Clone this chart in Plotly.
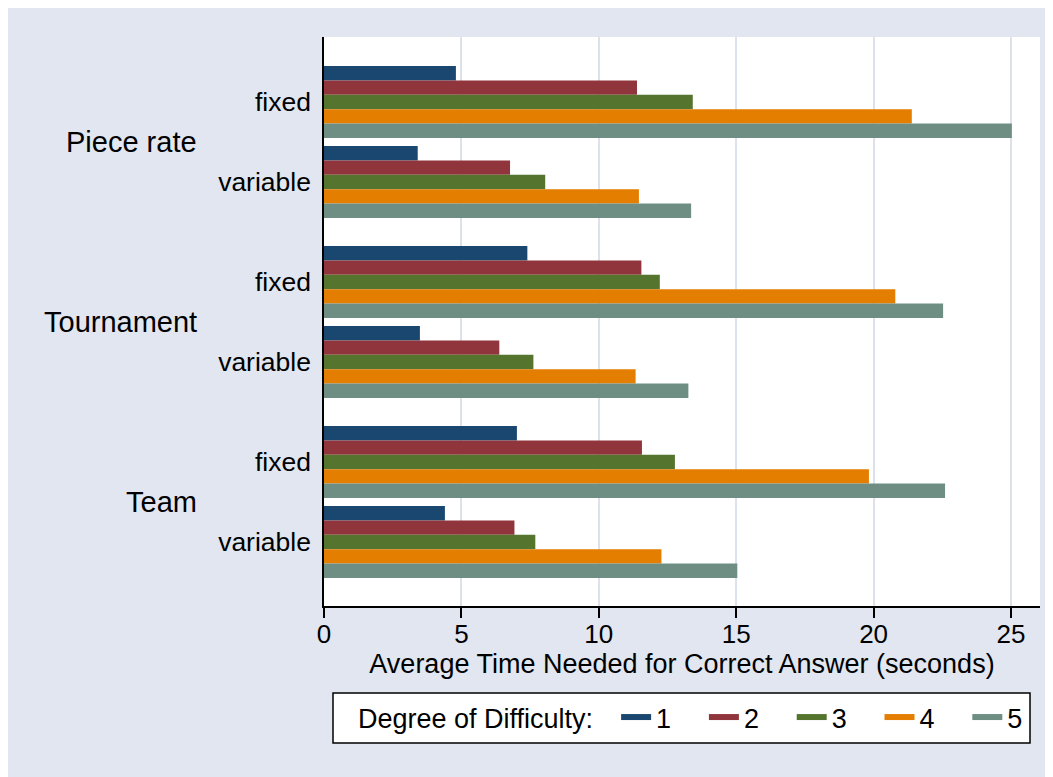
import plotly.graph_objects as go

# ---- data ----
group_labels = ["Piece rate", "Tournament", "Team"]
sub_labels = ["fixed", "variable", "fixed", "variable", "fixed", "variable"]
difficulty = ["1", "2", "3", "4", "5"]
# rows: Piece rate fixed, Piece rate variable, Tournament fixed, Tournament variable, Team fixed, Team variable
d1 = [4.80, 3.41, 7.40, 3.49, 7.02, 4.40]
d2 = [11.39, 6.77, 11.55, 6.38, 11.57, 6.93]
d3 = [13.42, 8.05, 12.22, 7.62, 12.77, 7.69]
d4 = [21.39, 11.46, 20.79, 11.34, 19.83, 12.28]
d5 = [25.03, 13.36, 22.53, 13.26, 22.60, 15.04]
series = [d1, d2, d3, d4, d5]
colors = ["#1a476f", "#90353b", "#55752f", "#e37e00", "#6e8e84"]

# category positions (gap between the three groups)
ypos = [0, 4, 9, 13, 18, 22]
group_pos = [2, 11, 20]

BG = "#E1E6F0"
GRID = "#DCE1EC"
FONT = "Liberation Sans, Arial, Helvetica, sans-serif"

OFF = 8  # page body margin
W, H = 1053, 777
L, T = 324 - OFF, 37 - OFF
R = W - (1040 - OFF)
B = H - (606 - OFF)
pw, ph = W - L - R, H - T - B


def px(xs):  # screen x -> paper
    return (xs - 324) / pw


def py(ys):  # screen y -> paper
    return (606 - ys) / ph


fig = go.Figure()
for name, vals, c in zip(difficulty, series, colors):
    fig.add_trace(go.Bar(x=vals, y=ypos, orientation="h", marker=dict(color=c, line=dict(width=0)),
                         name=name, showlegend=False))
for name, c in zip(difficulty, colors):
    fig.add_trace(go.Scatter(x=[None], y=[None], mode="lines", line=dict(color=c, width=6),
                             name=name, showlegend=True))

annotations = []
for g, p in zip(group_labels, group_pos):
    annotations.append(dict(text=g, x=px(199), xref="paper", y=p, yref="y",
                            xanchor="right", yanchor="middle", showarrow=False,
                            font=dict(size=29, color="black", family=FONT)))

# legend frame
shapes = [dict(type="rect", xref="paper", yref="paper", x0=px(333), x1=px(1030),
               y0=py(743), y1=py(693), fillcolor="white", line=dict(color="black", width=1.5),
               layer="below")]

NB = "\u00a0"
fig.update_layout(
    width=W, height=H,
    margin=dict(l=L, r=R, t=T, b=B, pad=0, autoexpand=False),
    paper_bgcolor=BG, plot_bgcolor="white",
    font=dict(family=FONT, size=26, color="black"),
    barmode="group", bargap=0.1, bargroupgap=0,
    annotations=annotations, shapes=shapes,
    legend=dict(
        orientation="h", x=px(356), xanchor="left", y=py(693), yanchor="top",
        bgcolor="rgba(0,0,0,0)", borderwidth=0,
        title=dict(text="Degree of Difficulty:" + NB * 2, side="left", font=dict(size=27)),
        font=dict(size=27), entrywidth=42.8, entrywidthmode="pixels",
        traceorder="normal",
    ),
)
fig.update_xaxes(
    range=[0, pw / 27.48], tickvals=[0, 5, 10, 15, 20, 25], ticks="outside", ticklen=10,
    tickcolor="black", tickwidth=1.5, showline=True, linecolor="black", linewidth=1.5,
    showgrid=True, gridcolor=GRID, gridwidth=2, zeroline=False,
    tickfont=dict(size=26), ticklabelstandoff=-6,
    title=dict(text="Average Time Needed for Correct Answer (seconds)", font=dict(size=27), standoff=0),
)
fig.update_yaxes(
    range=[25.2, -3.25], tickvals=ypos, ticktext=sub_labels, ticks="",
    showline=True, linecolor="black", linewidth=1.5, showgrid=False, zeroline=False,
    tickfont=dict(size=26.5), ticklabelstandoff=6,
)
fig.write_html("out.html")
